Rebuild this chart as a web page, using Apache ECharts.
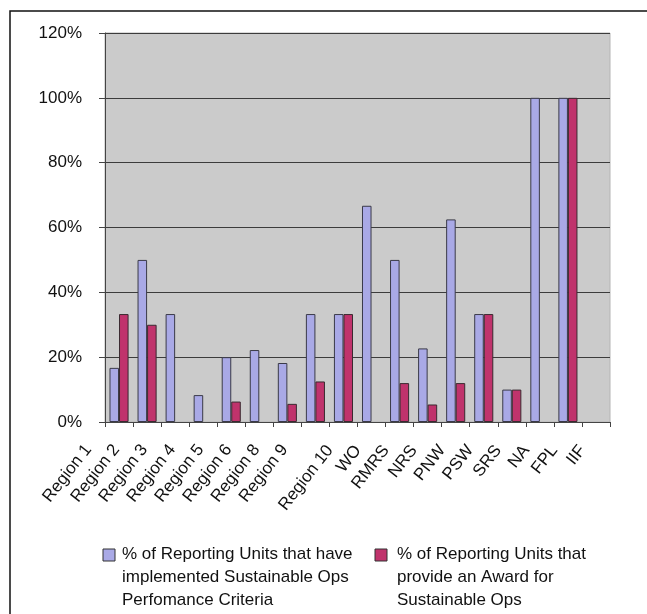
<!DOCTYPE html>
<html>
<head>
<meta charset="utf-8">
<script src="https://cdn.jsdelivr.net/npm/echarts@6/dist/echarts.min.js"></script>
<style>
  html, body { margin: 0; padding: 0; background: #ffffff; }
  #chart { width: 647px; height: 614px; }
</style>
</head>
<body>
<div id="chart"></div>
<script>
// Reporting units
const categories = ['Region 1', 'Region 2', 'Region 3', 'Region 4', 'Region 5', 'Region 6',
  'Region 8', 'Region 9', 'Region 10', 'WO', 'RMRS', 'NRS', 'PNW', 'PSW', 'SRS', 'NA', 'FPL', 'IIF'];

// % of units that have implemented Sustainable Ops performance criteria
const implementedPct = [16.7, 50, 33.3, 8.3, 20, 22.2, 18.2, 33.3, 33.3, 66.7, 50, 22.7, 62.5, 33.3, 10, 100, 100, null];

// % of units that provide an award for Sustainable Ops
const awardPct = [33.3, 30, null, null, 6.3, null, 5.6, 12.5, 33.3, null, 12, 5.4, 12, 33.3, 10, null, 100, null];

const seriesNames = [
  '% of Reporting Units that have implemented Sustainable Ops Perfomance Criteria',
  '% of Reporting Units that provide an Award for Sustainable Ops'
];
const legendLines = [
  ['% of Reporting Units that have', 'implemented Sustainable Ops', 'Perfomance Criteria'],
  ['% of Reporting Units that', 'provide an Award for', 'Sustainable Ops']
];

const yTicks = { min: 0, max: 120, interval: 20 };

const FONT = '"Liberation Sans", Arial, sans-serif';
const colors = ['#a9a9e6', '#c0336c'];

const chart = echarts.init(document.getElementById('chart'), null, { renderer: 'canvas' });

// Legend drawn as graphics so the swatch sits beside the first line of each wrapped name
const legendGraphics = [];
const swatchX = [103, 375];
const textX = [122, 397];
legendLines.forEach((lines, i) => {
  legendGraphics.push({
    type: 'rect',
    shape: { x: swatchX[i], y: 549, width: 12, height: 12 },
    style: { fill: colors[i], stroke: '#333', lineWidth: 1 }
  });
  legendGraphics.push({
    type: 'text',
    x: textX[i],
    y: 543,
    style: {
      text: lines.join('\n'),
      font: '17px ' + FONT,
      lineHeight: 23,
      fill: '#111'
    }
  });
});

const labelRich = {
  r: { fontSize: 17, fontFamily: FONT, color: '#111', padding: [0, 32, 28, 0] },
  u: { fontSize: 17, fontFamily: FONT, color: '#111', padding: [0, 22, 0, 0] }
};

chart.setOption({
  animation: false,
  backgroundColor: '#ffffff',
  textStyle: { fontFamily: FONT },
  grid: {
    left: 105, right: 37, top: 33, bottom: 192,
    show: true, backgroundColor: '#cbcbcb', borderColor: '#b4b4b4', borderWidth: 1
  },
  graphic: [
    {
      type: 'rect',
      shape: { x: 10, y: 11, width: 700, height: 700 },
      style: { fill: null, stroke: '#111', lineWidth: 1.5 },
      z: 100
    }
  ].concat(legendGraphics),
  xAxis: {
    type: 'category',
    data: categories,
    axisLine: { show: true, lineStyle: { color: '#444', width: 1 } },
    axisTick: { show: true, length: 5, inside: false, lineStyle: { color: '#444' } },
    axisLabel: {
      interval: 0,
      rotate: 52,
      margin: 8,
      color: '#111',
      fontSize: 17,
      formatter: v => (/^Region \d$/.test(v) ? '{r|' : '{u|') + v + '}',
      rich: labelRich
    },
    splitLine: { show: false }
  },
  yAxis: {
    type: 'value',
    min: yTicks.min, max: yTicks.max, interval: yTicks.interval,
    axisLine: { show: true, lineStyle: { color: '#444', width: 1 } },
    axisTick: { show: true, length: 6, lineStyle: { color: '#444' } },
    axisLabel: { formatter: '{value}%', color: '#111', fontSize: 17, margin: 23 },
    splitLine: { show: true, lineStyle: { color: '#3c3c3c', width: 1 } }
  },
  series: [
    {
      name: seriesNames[0],
      type: 'bar',
      data: implementedPct,
      barGap: '0%',
      barCategoryGap: '32%',
      itemStyle: { color: colors[0], borderColor: '#3a3a48', borderWidth: 1 }
    },
    {
      name: seriesNames[1],
      type: 'bar',
      data: awardPct,
      itemStyle: { color: colors[1], borderColor: '#3a2a30', borderWidth: 1 }
    }
  ]
});
</script>
</body>
</html>
